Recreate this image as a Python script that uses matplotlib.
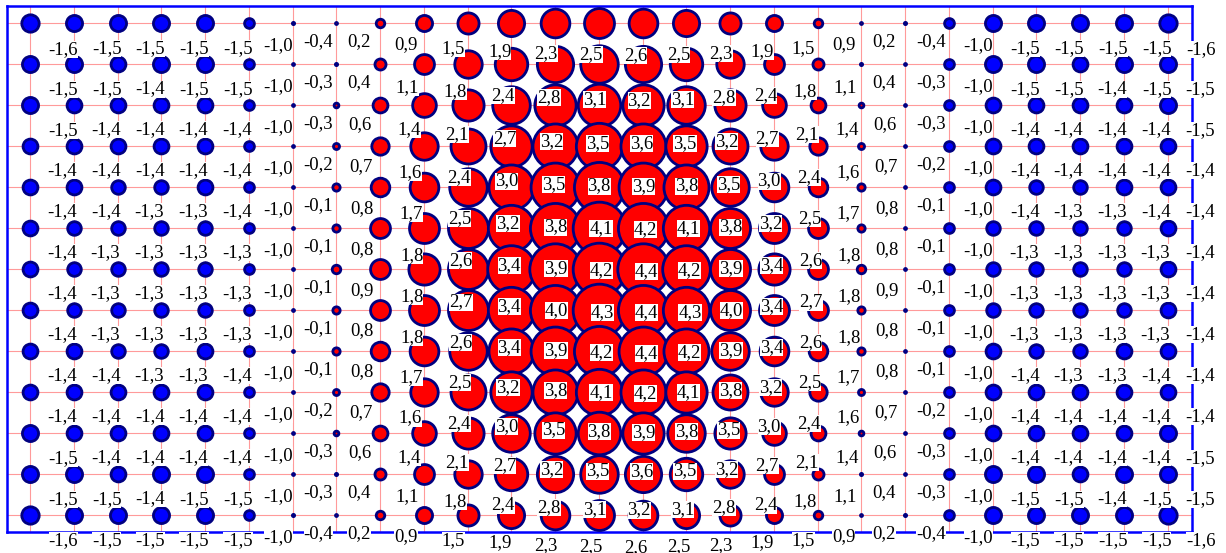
import matplotlib
matplotlib.use("Agg")
import matplotlib.pyplot as plt
import numpy as np

# grid of values, top row first (13 rows x 27 columns)
values = [
    [-1.6, -1.5, -1.5, -1.5, -1.5, -1.0, -0.4, 0.2, 0.9, 1.5, 1.9, 2.3, 2.5, 2.6, 2.5, 2.3, 1.9, 1.5, 0.9, 0.2, -0.4, -1.0, -1.5, -1.5, -1.5, -1.5, -1.6],
    [-1.5, -1.5, -1.4, -1.5, -1.5, -1.0, -0.3, 0.4, 1.1, 1.8, 2.4, 2.8, 3.1, 3.2, 3.1, 2.8, 2.4, 1.8, 1.1, 0.4, -0.3, -1.0, -1.5, -1.5, -1.4, -1.5, -1.5],
    [-1.5, -1.4, -1.4, -1.4, -1.4, -1.0, -0.3, 0.6, 1.4, 2.1, 2.7, 3.2, 3.5, 3.6, 3.5, 3.2, 2.7, 2.1, 1.4, 0.6, -0.3, -1.0, -1.4, -1.4, -1.4, -1.4, -1.5],
    [-1.4, -1.4, -1.4, -1.4, -1.4, -1.0, -0.2, 0.7, 1.6, 2.4, 3.0, 3.5, 3.8, 3.9, 3.8, 3.5, 3.0, 2.4, 1.6, 0.7, -0.2, -1.0, -1.4, -1.4, -1.4, -1.4, -1.4],
    [-1.4, -1.4, -1.3, -1.3, -1.4, -1.0, -0.1, 0.8, 1.7, 2.5, 3.2, 3.8, 4.1, 4.2, 4.1, 3.8, 3.2, 2.5, 1.7, 0.8, -0.1, -1.0, -1.4, -1.3, -1.3, -1.4, -1.4],
    [-1.4, -1.3, -1.3, -1.3, -1.3, -1.0, -0.1, 0.8, 1.8, 2.6, 3.4, 3.9, 4.2, 4.4, 4.2, 3.9, 3.4, 2.6, 1.8, 0.8, -0.1, -1.0, -1.3, -1.3, -1.3, -1.3, -1.4],
    [-1.4, -1.3, -1.3, -1.3, -1.3, -1.0, -0.1, 0.9, 1.8, 2.7, 3.4, 4.0, 4.3, 4.4, 4.3, 4.0, 3.4, 2.7, 1.8, 0.9, -0.1, -1.0, -1.3, -1.3, -1.3, -1.3, -1.4],
    [-1.4, -1.3, -1.3, -1.3, -1.3, -1.0, -0.1, 0.8, 1.8, 2.6, 3.4, 3.9, 4.2, 4.4, 4.2, 3.9, 3.4, 2.6, 1.8, 0.8, -0.1, -1.0, -1.3, -1.3, -1.3, -1.3, -1.4],
    [-1.4, -1.4, -1.3, -1.3, -1.4, -1.0, -0.1, 0.8, 1.7, 2.5, 3.2, 3.8, 4.1, 4.2, 4.1, 3.8, 3.2, 2.5, 1.7, 0.8, -0.1, -1.0, -1.4, -1.3, -1.3, -1.4, -1.4],
    [-1.4, -1.4, -1.4, -1.4, -1.4, -1.0, -0.2, 0.7, 1.6, 2.4, 3.0, 3.5, 3.8, 3.9, 3.8, 3.5, 3.0, 2.4, 1.6, 0.7, -0.2, -1.0, -1.4, -1.4, -1.4, -1.4, -1.4],
    [-1.5, -1.4, -1.4, -1.4, -1.4, -1.0, -0.3, 0.6, 1.4, 2.1, 2.7, 3.2, 3.5, 3.6, 3.5, 3.2, 2.7, 2.1, 1.4, 0.6, -0.3, -1.0, -1.4, -1.4, -1.4, -1.4, -1.5],
    [-1.5, -1.5, -1.4, -1.5, -1.5, -1.0, -0.3, 0.4, 1.1, 1.8, 2.4, 2.8, 3.1, 3.2, 3.1, 2.8, 2.4, 1.8, 1.1, 0.4, -0.3, -1.0, -1.5, -1.5, -1.4, -1.5, -1.5],
    [-1.6, -1.5, -1.5, -1.5, -1.5, -1.0, -0.4, 0.2, 0.9, 1.5, 1.9, 2.3, 2.5, 2.6, 2.5, 2.3, 1.9, 1.5, 0.9, 0.2, -0.4, -1.0, -1.5, -1.5, -1.5, -1.5, -1.6],
]
cols = list(range(27))
rows = list(range(13))

fig = plt.figure(figsize=(12.26, 5.53), dpi=100)
ax = fig.add_axes([7.3 / 1226, 1 - 531.7 / 553, 1184.4 / 1226, 525.7 / 553])

ax.set_xlim(-0.52, 26.55)
ax.set_ylim(12.41, -0.42)

# light red grid at every point
for c in cols:
    ax.axvline(c, color='#ff9a9a', lw=0.8, zorder=0)
for r in rows:
    ax.axhline(r, color='#ff9a9a', lw=0.8, zorder=0)

edge_px = 2.8
px = 0.72  # points per pixel at 100 dpi

for r in rows:
    for c in cols:
        v = values[r][c]
        R = 6.3 * abs(v)                       # outer radius in pixels
        rad = max(R - edge_px / 2, 1.0)
        face = 'red' if v > 0 else '#0000ff'
        ax.scatter(c, r, s=(2 * rad * px) ** 2, c=face, edgecolors='#000080',
                   linewidths=edge_px * px, zorder=3)

# value labels sit below-right of each bubble, on a white box
for r in rows:
    for c in cols:
        v = values[r][c]
        R = max(6.3 * abs(v), 2.4)
        txt = f"{v:.1f}".replace('.', ',')
        ax.annotate(txt, (c, r), xytext=(R + 8.5, -(R + 16)), textcoords='offset pixels',
                    ha='left', va='center', fontsize=13.5, family='Liberation Serif',
                    color='black', zorder=6, annotation_clip=False,
                    bbox=dict(boxstyle='square,pad=0', fc='white', ec='none'))

ax.set_xticks([])
ax.set_yticks([])
for s in ax.spines.values():
    s.set_color('#0000ff')
    s.set_linewidth(1.8)

fig.savefig('out.png', dpi=100)
